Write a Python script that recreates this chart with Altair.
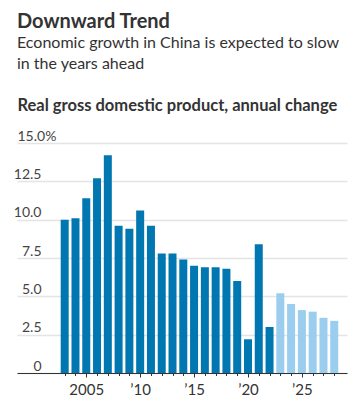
import altair as alt
import pandas as pd

years = list(range(2003, 2029))
gdp = [10.0, 10.1, 11.4, 12.7, 14.2, 9.6, 9.4, 10.6, 9.6, 7.8, 7.8, 7.4, 7.0,
       6.9, 6.9, 6.8, 6.0, 2.2, 8.4, 3.0, 5.2, 4.5, 4.1, 4.0, 3.6, 3.4]
kind = ["Actual"] * 20 + ["Forecast"] * 6

df = pd.DataFrame({"year": years, "gdp": gdp, "kind": kind})

FONT = "Lato"

x_label_expr = ("datum.value == 2005 ? '2005' : (datum.value % 5 == 0 ? "
                "'\u2019' + substring(toString(datum.value), 2, 4) : '')")
y_label_expr = ("datum.value == 0 ? '0' : (datum.value == 15 ? '15.0%' : "
                "format(datum.value, '.1f'))")

chart = alt.Chart(df).mark_bar(size=8).encode(
    x=alt.X("year:Q",
            scale=alt.Scale(domain=[1999.04, 2028.72], nice=False, zero=False),
            axis=alt.Axis(values=years, labelExpr=x_label_expr, title=None,
                          grid=False, domain=True, domainColor="#333333",
                          domainWidth=1, tickColor="#333333",
                          tickSize={"condition": {"test": "datum.value % 5 == 0", "value": 4}, "value": 2.5},
                          labelPadding=5, labelFont=FONT, labelFontSize=15,
                          labelColor="#333333", labelFlush=False,
                          labelOverlap=False)),
    y=alt.Y("gdp:Q",
            scale=alt.Scale(domain=[0, 15], nice=False),
            axis=alt.Axis(values=[0, 2.5, 5, 7.5, 10, 12.5, 15],
                          labelExpr=y_label_expr,
                          title="Real gross domestic product, annual change",
                          titleAngle=0, titleAlign="left", titleX=0, titleY=-33,
                          titleBaseline="alphabetic", titleFont=FONT,
                          titleFontSize=16.5, titleFontWeight="bold",
                          titleColor="#333333",
                          domain=False, ticks=False, grid=True,
                          gridColor="#e4e4e4", gridWidth=1.5,
                          labelAlign={"condition": {"test": "datum.value == 15", "value": "left"}, "value": "right"},
                          labelPadding={"condition": {"test": "datum.value == 15", "value": 0}, "value": -24},
                          labelBaseline="alphabetic", labelOffset=-3,
                          labelFont=FONT, labelFontSize=14,
                          labelColor="#444444")),
    color=alt.Color("kind:N",
                    scale=alt.Scale(domain=["Actual", "Forecast"],
                                    range=["#0077b0", "#9bcdee"]),
                    legend=None),
).properties(
    width=330,
    height=230,
    autosize=alt.AutoSizeParams(type="none"),
    padding={"left": 9, "top": 135, "right": 8, "bottom": 27},
    title=alt.TitleParams(
        text="Downward Trend",
        subtitle=["Economic growth in China is expected to slow",
                  "in the years ahead"],
        anchor="start", frame="group", font=FONT, fontSize=20,
        fontWeight="bold", color="#333333",
        subtitleFont=FONT, subtitleFontSize=16, subtitleColor="#333333",
        subtitleLineHeight=21, subtitlePadding=3, offset=25,
    ),
).configure_view(stroke=None)

chart.save("out.html", embed_options={"renderer": "svg", "actions": False})
